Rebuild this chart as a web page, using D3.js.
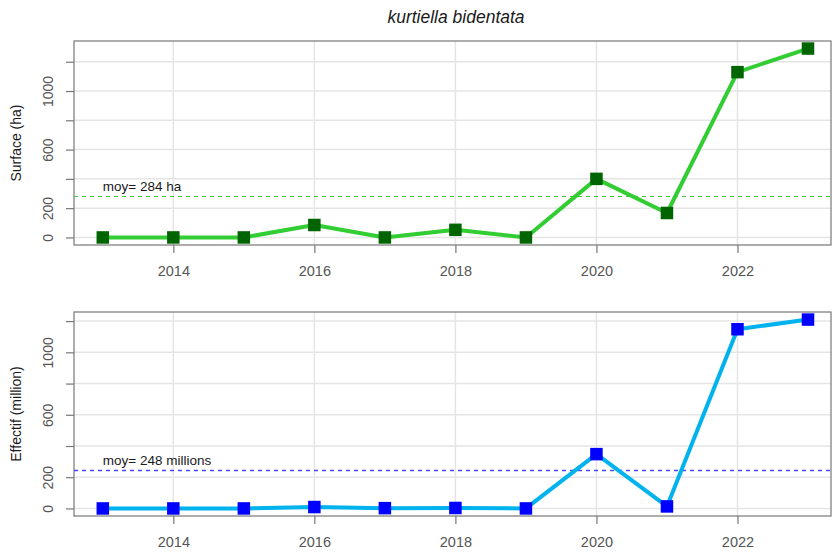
<!DOCTYPE html>
<html>
<head>
<meta charset="utf-8">
<script src="https://cdn.jsdelivr.net/npm/d3@7"></script>
<style>
  html, body { margin: 0; padding: 0; background: #fff; }
  svg { display: block; font-family: "Liberation Sans", Arial, Helvetica, sans-serif; }
</style>
</head>
<body>
<svg id="chart" width="832" height="554"></svg>
<script>
// Yearly series for Kurtiella bidentata
const years = [2013, 2014, 2015, 2016, 2017, 2018, 2019, 2020, 2021, 2022, 2023];
const surface = [0, 0, 0, 85, 0, 52, 0, 400, 167, 1129, 1290];      // ha
const effectif = [0, 0, 0, 9, 2, 3, 0, 348, 13, 1148, 1210];       // millions
const xTicks = [2014, 2016, 2018, 2020, 2022];
const yTicks = [0, 200, 400, 600, 800, 1000, 1200];
const yLabels = [0, 200, 600, 1000];
const title = "kurtiella bidentata";

const svg = d3.select("#chart");
const left = 74, right = 831;

// first and last year sit slightly inside the frame
const x = d3.scaleLinear()
  .domain([years[0], years[years.length - 1]])
  .range([102.8, 808]);

svg.append("text")
  .attr("x", 456)
  .attr("y", 23)
  .attr("text-anchor", "middle")
  .attr("font-size", 17.5)
  .attr("font-style", "italic")
  .attr("fill", "#1a1a1a")
  .text(title);

function panel(cfg) {
  const { values, top, bottom, yTitle, unit, lineColor, pointColor, meanColor, meanWidth } = cfg;
  const ext = d3.extent(values);
  const pad = 0.04 * (ext[1] - ext[0]);
  const y = d3.scaleLinear().domain([ext[0] - pad, ext[1] + pad]).range([bottom, top]);
  const g = svg.append("g");

  // grid
  g.selectAll(".hg").data(yTicks).join("line")
    .attr("x1", left).attr("x2", right)
    .attr("y1", d => y(d)).attr("y2", d => y(d))
    .attr("stroke", "#e5e5e5").attr("stroke-width", 1.5);
  g.selectAll(".vg").data(xTicks).join("line")
    .attr("x1", d => x(d)).attr("x2", d => x(d))
    .attr("y1", top).attr("y2", bottom)
    .attr("stroke", "#e5e5e5").attr("stroke-width", 1.5);

  // y axis
  const ya = g.append("g").attr("transform", `translate(${left},0)`)
    .call(d3.axisLeft(y).tickValues(yTicks).tickSize(8).tickPadding(0)
      .tickFormat(d => yLabels.includes(d) ? String(d) : ""));
  ya.select(".domain").remove();
  ya.selectAll(".tick line").attr("stroke", "#777").attr("stroke-width", 1.2);
  ya.selectAll(".tick text")
    .attr("x", null).attr("dy", null)
    .attr("transform", "translate(-21,0) rotate(-90)")
    .attr("text-anchor", "middle")
    .attr("font-size", 14)
    .attr("font-family", null)
    .attr("fill", "#555");

  // x axis
  const xa = g.append("g").attr("transform", `translate(0,${bottom})`)
    .call(d3.axisBottom(x).tickValues(xTicks).tickSize(8).tickPadding(0).tickFormat(d3.format("d")));
  xa.select(".domain").remove();
  xa.selectAll(".tick line").attr("stroke", "#777").attr("stroke-width", 1.2);
  xa.selectAll(".tick text")
    .attr("y", 30.5).attr("dy", null)
    .attr("font-size", 14.5)
    .attr("font-family", null)
    .attr("fill", "#555");

  // frame
  g.append("rect")
    .attr("x", left).attr("y", top)
    .attr("width", right - left).attr("height", bottom - top)
    .attr("fill", "none").attr("stroke", "#777").attr("stroke-width", 1.2);

  // axis title
  g.append("text")
    .attr("transform", `translate(21,${(top + bottom) / 2}) rotate(-90)`)
    .attr("text-anchor", "middle")
    .attr("font-size", 14)
    .attr("fill", "#1a1a1a")
    .text(yTitle);

  // mean line and label
  const m = d3.mean(values);
  const my = Math.round(y(m)) + 0.5;
  g.append("line")
    .attr("x1", left).attr("x2", right)
    .attr("y1", my).attr("y2", my)
    .attr("stroke", meanColor).attr("stroke-width", meanWidth)
    .attr("stroke-dasharray", "4,4");
  g.append("text")
    .attr("x", x(years[0]))
    .attr("y", y(m) - 5)
    .attr("font-size", 13.5)
    .attr("fill", "#1a1a1a")
    .text(`moy= ${Math.round(m)} ${unit}`);

  // series
  const pts = years.map((yr, i) => [yr, values[i]]);
  g.append("path")
    .datum(pts)
    .attr("d", d3.line().x(d => x(d[0])).y(d => y(d[1])))
    .attr("fill", "none")
    .attr("stroke", lineColor)
    .attr("stroke-width", 4)
    .attr("stroke-linejoin", "round");
  const s = 12.5;
  g.selectAll(".pt").data(pts).join("rect")
    .attr("x", d => x(d[0]) - s / 2)
    .attr("y", d => y(d[1]) - s / 2)
    .attr("width", s).attr("height", s)
    .attr("fill", pointColor);
}

panel({
  values: surface, top: 41, bottom: 245,
  yTitle: "Surface (ha)", unit: "ha",
  lineColor: "#32cd32", pointColor: "#006400", meanColor: "#3ec43e", meanWidth: 1.2
});
panel({
  values: effectif, top: 312, bottom: 516,
  yTitle: "Effectif (million)", unit: "millions",
  lineColor: "#00b2ee", pointColor: "#0000ff", meanColor: "#4848ff", meanWidth: 1.5
});
</script>
</body>
</html>
